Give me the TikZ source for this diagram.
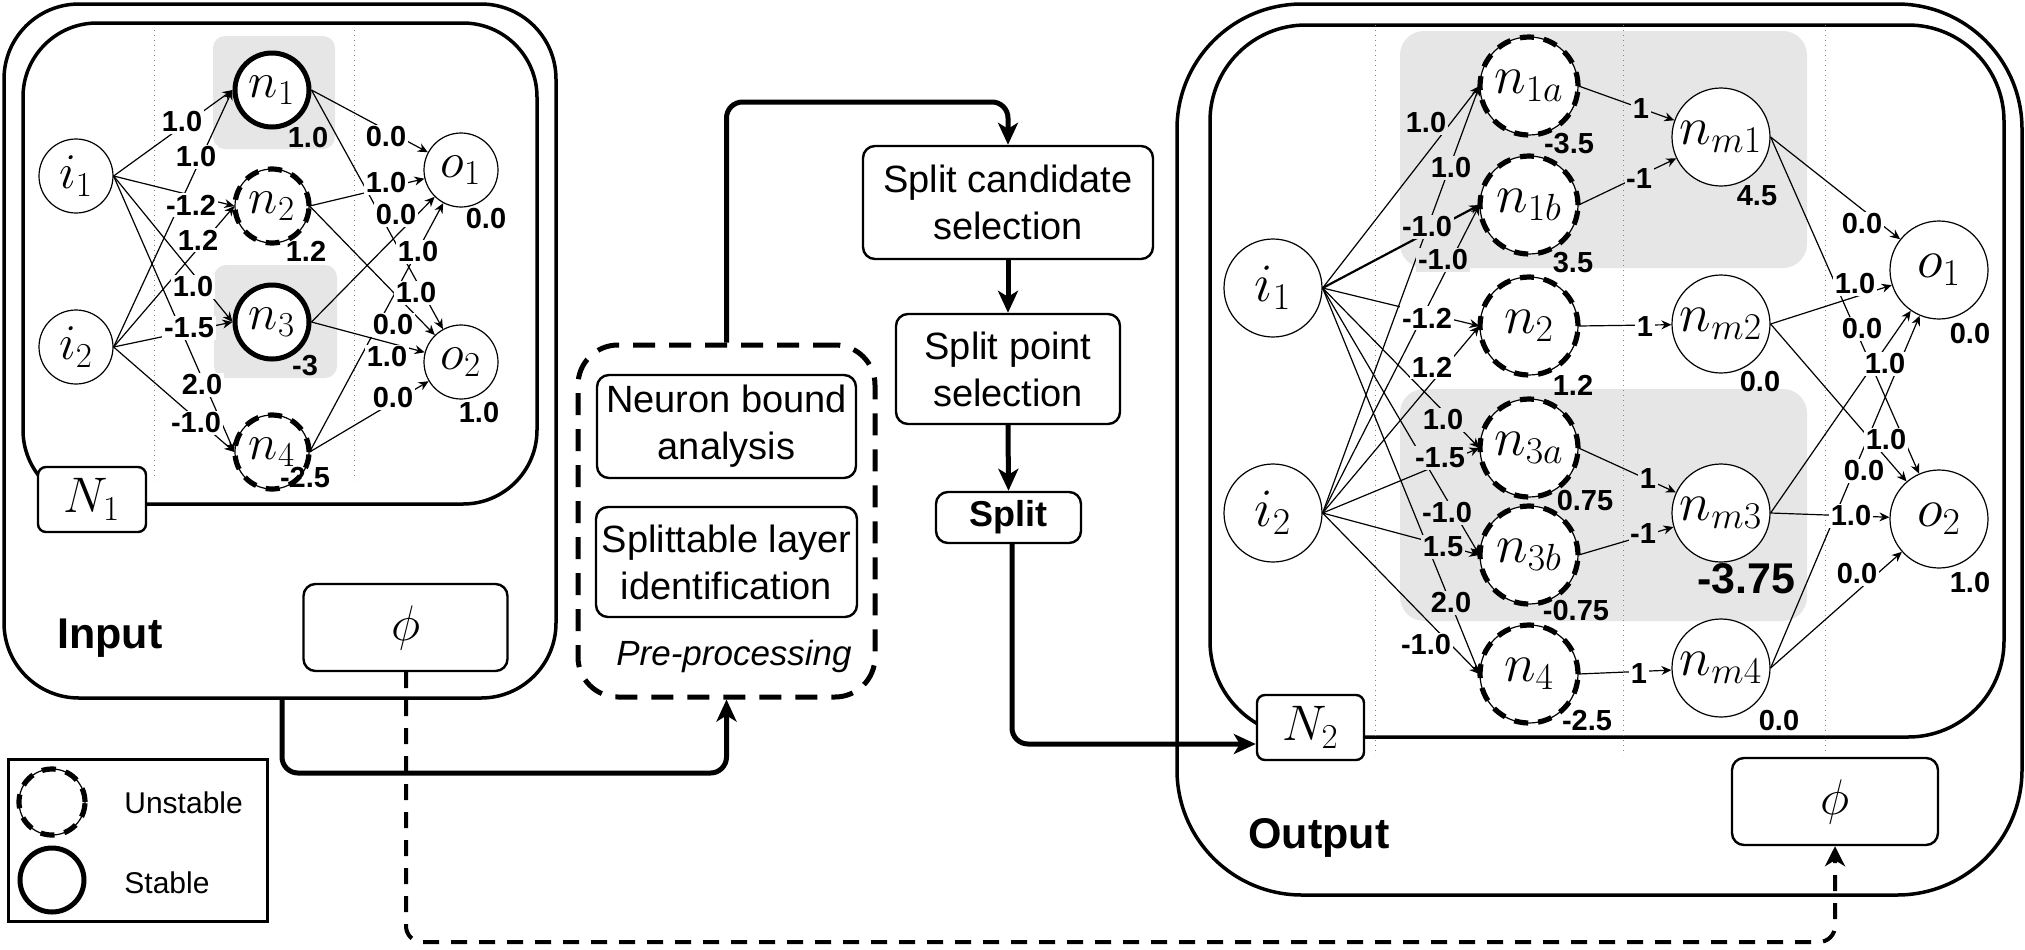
\RequirePackage{fix-cm}
\documentclass[tikz,border=0pt]{standalone}
\usepackage{fontspec}
\setmainfont{Liberation Sans}
\usetikzlibrary{arrows.meta,calc}
\definecolor{graybg}{HTML}{E6E6E6}
\tikzset{
  nn/.style={circle, draw, fill=white, line width=0.6pt, inner sep=0pt, minimum size=37pt, font=\fontsize{25}{30}\selectfont},
  rn/.style={nn, minimum size=49pt, font=\fontsize{27}{32}\selectfont},
  stablen/.style={line width=2.5pt},
  unst/.style={postaction={draw, line width=2.6pt, dash pattern=on 7pt off 5pt}},
  ed/.style={line width=0.6pt, -{Stealth[length=5pt, width=4.5pt]}},
  wl/.style={font=\bfseries\fontsize{14.5}{15}\selectfont, inner sep=0.8pt, fill=white},
  gl/.style={wl, fill=graybg},
  bl/.style={font=\bfseries\fontsize{14.5}{15}\selectfont, inner sep=0pt},
  box/.style={draw, rounded corners=6pt, line width=1.2pt, align=center, font=\fontsize{19}{23.5}\selectfont, inner sep=0pt},
  bigbox/.style={draw, line width=1.75pt, inner sep=0pt},
  tag/.style={draw, fill=white, rounded corners=4pt, line width=1.2pt, minimum width=54pt, minimum height=32.5pt, inner sep=0pt, font=\fontsize{25}{30}\selectfont},
  phibox/.style={draw, fill=white, rounded corners=6pt, line width=1.2pt, minimum width=102pt, minimum height=43.5pt, inner sep=0pt, font=\fontsize{25}{30}\selectfont},
  conn/.style={line width=2.5pt, rounded corners=8pt, -{Stealth[length=11pt, width=10pt, inset=3pt]}},
  dconn/.style={line width=2pt, rounded corners=8pt, dash pattern=on 8pt off 6pt, -{Stealth[length=10pt, width=10pt, inset=3pt]}},
  layerline/.style={gray, dotted, line width=0.5pt}
}
\begin{document}
\begin{tikzpicture}[x=0.5pt, y=-0.5pt]
\useasboundingbox (0,0) rectangle (2025,949);

% ---------------- Input side ----------------
\node[bigbox, rounded corners=37.5pt, minimum width=276pt, minimum height=347pt] (inp) at (280,351) {};
\node[bigbox, rounded corners=37pt, minimum width=257pt, minimum height=240.5pt] (inpin) at (280,263.5) {};
\fill[graybg, rounded corners=6pt] (213,36) rectangle (335,149);
\fill[graybg, rounded corners=6pt] (214,265) rectangle (337,378);
\draw[layerline] (154,30) -- (154,480);
\draw[layerline] (354,30) -- (354,480);

\node[nn] (li1) at (76,176) {$i_1$};
\node[nn] (li2) at (76,347) {$i_2$};
\node[nn, stablen] (ln1) at (272,90) {$n_1$};
\node[nn, unst] (ln2) at (272,206) {$n_2$};
\node[nn, stablen] (ln3) at (272,322) {$n_3$};
\node[nn, unst] (ln4) at (272,452) {$n_4$};
\node[nn] (lo1) at (461,170) {$o_1$};
\node[nn] (lo2) at (461,362) {$o_2$};

\foreach \s in {li1,li2}{\foreach \t in {ln1,ln2,ln3,ln4}{\draw[ed] (\s.east) -- (\t.west);}}
\foreach \s in {ln1,ln2,ln3,ln4}{\foreach \t in {lo1,lo2}{\draw[ed] (\s.east) -- (\t);}}

\node[wl] (la1) at (182,122) {1.0};
\node[wl] (la2) at (196,157) {1.0};
\node[wl] (la3) at (191,205) {-1.2};
\node[wl] (la4) at (198,240) {1.2};
\node[wl] (la5) at (193,287) {1.0};
\node[wl] (la6) at (189,328) {-1.5};
\node[wl] (la7) at (202,385) {2.0};
\node[wl] (la8) at (196,423) {-1.0};
\node[wl] (lb1) at (386,137) {0.0};
\node[wl] (lb2) at (386,183) {1.0};
\node[wl] (lb3) at (396,215) {0.0};
\node[wl] (lb4) at (418,252) {1.0};
\node[wl] (lb5) at (416,293) {1.0};
\node[wl] (lb6) at (393,325) {0.0};
\node[wl] (lb7) at (387,357) {1.0};
\node[wl] (lb8) at (393,398) {0.0};
\node[bl] (lc1) at (308,138) {1.0};
\node[bl] (lc2) at (306,251) {1.2};
\node[bl] (lc3) at (305,366) {-3};
\node[bl] (lc4) at (305,478) {-2.5};
\node[bl] (lc5) at (486,219) {0.0};
\node[bl] (lc6) at (479,413) {1.0};

\node[tag] (N1) at (92,499.5) {$N_1$};
\node[phibox] (iphi) at (405.5,627.5) {$\phi$};
\node[anchor=base west, inner sep=0pt, font=\bfseries\fontsize{21.5}{24}\selectfont] (inputtxt) at (57,648) {Input};

% ---------------- Legend ----------------
\node[draw, line width=1.5pt, minimum width=129.5pt, minimum height=81pt, inner sep=0pt] (legend) at (137.5,840) {};
\node[nn, unst, minimum size=33pt] (legu) at (52,802) {};
\node[nn, stablen, minimum size=32pt] (legs) at (52,880) {};
\node[anchor=west, inner sep=0pt, font=\fontsize{15}{18}\selectfont] (legut) at (124,803) {Unstable};
\node[anchor=west, inner sep=0pt, font=\fontsize{15}{18}\selectfont] (legst) at (124,883) {Stable};

% ---------------- Middle ----------------
\node[box, minimum width=145pt, minimum height=56.5pt] (cand) at (1008,202.5) {Split candidate\\selection};
\node[box, minimum width=112pt, minimum height=55pt] (spt) at (1008,369) {Split point\\selection};
\node[box, minimum width=72.5pt, minimum height=25.5pt, font=\bfseries\fontsize{18}{20}\selectfont] (split) at (1008.5,517.5) {Split};
\node[draw, rounded corners=20pt, line width=2.5pt, dash pattern=on 11pt off 7pt, minimum width=148.5pt, minimum height=176pt, inner sep=0pt] (pre) at (726.5,521) {};
\node[box, minimum width=129.5pt, minimum height=51.5pt] (nba) at (726.5,426.5) {Neuron bound\\analysis};
\node[box, minimum width=130.5pt, minimum height=55pt] (sli) at (726.5,562) {Splittable layer\\identification};
\node[inner sep=0pt, font=\itshape\fontsize{17.5}{20}\selectfont] (pret) at (734,656) {Pre-processing};

\coordinate (c0) at (1008,102);
\draw[conn] (pre.north) |- (c0) -- (cand.north);
\draw[conn] (cand.south) -- (spt.north);
\draw[conn] (spt.south) -- (split.north);
\coordinate (c1) at (282,773);
\draw[conn] (inp.south -| c1) -- (c1) -| (pre.south);

% ---------------- Output side ----------------
\node[bigbox, rounded corners=62.5pt, minimum width=422.5pt, minimum height=445.5pt] (outp) at (1599.5,449.5) {};
\node[bigbox, rounded corners=48pt, minimum width=397pt, minimum height=356pt] (outin) at (1607,381) {};
\fill[graybg, rounded corners=12pt] (1400,31) rectangle (1807,268);
\fill[graybg, rounded corners=12pt] (1400,389) rectangle (1807,621);
\draw[layerline] (1375,25) -- (1375,755);
\draw[layerline] (1623,25) -- (1623,755);
\draw[layerline] (1825,25) -- (1825,755);

\node[rn] (ri1) at (1273,288) {$i_1$};
\node[rn] (ri2) at (1273,513) {$i_2$};
\node[rn, unst] (rn1a) at (1529,86) {$n_{1a}$};
\node[rn, unst] (rn1b) at (1529,205) {$n_{1b}$};
\node[rn, unst] (rn2) at (1529,326) {$n_2$};
\node[rn, unst] (rn3a) at (1529,448) {$n_{3a}$};
\node[rn, unst] (rn3b) at (1529,555) {$n_{3b}$};
\node[rn, unst] (rn4) at (1529,674) {$n_4$};
\node[rn] (rm1) at (1721,137) {$n_{m1}$};
\node[rn] (rm2) at (1721,324) {$n_{m2}$};
\node[rn] (rm3) at (1721,513) {$n_{m3}$};
\node[rn] (rm4) at (1721,668) {$n_{m4}$};
\node[rn] (ro1) at (1939,270) {$o_1$};
\node[rn] (ro2) at (1939,519) {$o_2$};

\foreach \t in {rn1a,rn2,rn3a,rn3b,rn4}{\draw[ed] (ri1.east) -- (\t.west);}
\draw[ed, line width=1.1pt] (ri1.east) -- (rn1b.west);
\foreach \t in {rn1a,rn1b,rn2,rn3a,rn3b,rn4}{\draw[ed] (ri2.east) -- (\t.west);}
\draw[ed] (rn1a.east) -- (rm1);
\draw[ed] (rn1b.east) -- (rm1);
\draw[ed] (rn2.east) -- (rm2);
\draw[ed] (rn3a.east) -- (rm3);
\draw[ed] (rn3b.east) -- (rm3);
\draw[ed] (rn4.east) -- (rm4);
\foreach \s in {rm1,rm2,rm3,rm4}{\foreach \t in {ro1,ro2}{\draw[ed] (\s.east) -- (\t);}}

\node[gl] (ra1) at (1426,123) {1.0};
\node[gl] (ra2) at (1451,168) {1.0};
\node[gl] (ra3) at (1427,227) {-1.0};
\node[gl] (ra4) at (1443,260) {-1.0};
\node[wl] (ra5) at (1427,318) {-1.2};
\node[wl] (ra6) at (1432,367) {1.2};
\node[gl] (ra7) at (1443,420) {1.0};
\node[gl] (ra8) at (1440,458) {-1.5};
\node[gl] (ra9) at (1447,513) {-1.0};
\node[gl] (ra10) at (1443,547) {1.5};
\node[gl] (ra11) at (1451,603) {2.0};
\node[wl] (ra12) at (1426,645) {-1.0};
\node[gl] (rb1) at (1641,109) {1};
\node[gl] (rb2) at (1639,179) {-1};
\node[wl] (rb3) at (1645,327) {1};
\node[gl] (rb4) at (1648,479) {1};
\node[gl] (rb5) at (1643,534) {-1};
\node[wl] (rb6) at (1639,674) {1};
\node[wl] (rc1) at (1862,224) {0.0};
\node[wl] (rc2) at (1855,284) {1.0};
\node[wl] (rc3) at (1862,329) {0.0};
\node[wl] (rc4) at (1885,364) {1.0};
\node[wl] (rc5) at (1886,440) {1.0};
\node[wl] (rc6) at (1864,471) {0.0};
\node[wl] (rc7) at (1851,516) {1.0};
\node[wl] (rc8) at (1857,574) {0.0};
\node[bl] (rd1) at (1569,144) {-3.5};
\node[bl] (rd2) at (1573,263) {3.5};
\node[bl] (rd3) at (1573,385) {1.2};
\node[bl] (rd4) at (1585,501) {0.75};
\node[bl] (rd5) at (1576,611) {-0.75};
\node[bl] (rd6) at (1587,721) {-2.5};
\node[bl] (rd7) at (1757,196) {4.5};
\node[bl] (rd8) at (1760,382) {0.0};
\node[bl, font=\bfseries\fontsize{21.5}{24}\selectfont] (rd9) at (1746,579) {-3.75};
\node[bl] (rd10) at (1779,721) {0.0};
\node[bl] (rd11) at (1970,334) {0.0};
\node[bl] (rd12) at (1970,583) {1.0};

\node[tag, minimum width=53.5pt] (N2) at (1310.5,727.5) {$N_2$};
\node[phibox, minimum width=103pt] (ophi) at (1835,801.5) {$\phi$};
\node[anchor=base west, inner sep=0pt, font=\bfseries\fontsize{21.5}{24}\selectfont] (outputtxt) at (1248,848) {Output};

\coordinate (c2) at (1012,744);
\draw[conn] (split.south -| c2) -- (c2) -- (N2.west |- c2);
\coordinate (c3) at (406,942);
\draw[dconn] (iphi.south -| c3) -- (c3) -| (ophi.south);
\end{tikzpicture}
\end{document}
